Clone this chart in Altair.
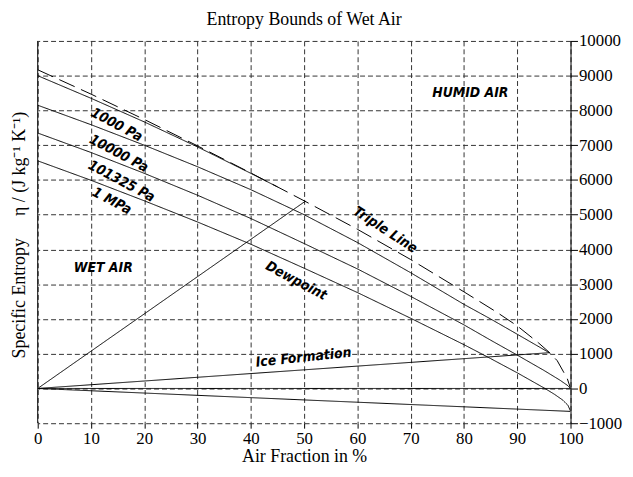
import altair as alt
import pandas as pd

# ---- data ----
triple_x = [0, 10, 20, 30, 40, 50, 60, 70, 80, 86, 90, 94, 96, 97.5, 98.6, 99.4, 100]
triple_y = [9170, 8470, 7740, 6980, 6200, 5400, 4580, 3710, 2780, 2210, 1800, 1310, 1040, 800, 500, 280, 0]

p1000_x = [0, 10, 20, 30, 40, 45]
p1000_y = [9000, 8350, 7670, 6950, 6190, 5800]

p10000_x = [0, 10, 20, 30, 40, 50, 60, 70, 80, 85, 90, 96.1]
p10000_y = [8150, 7590, 7000, 6380, 5720, 5000, 4200, 3330, 2420, 2000, 1560, 1020]

p101325_x = [0, 10, 20, 30, 40, 50, 60, 70, 80, 85, 90, 95, 98, 99.5, 100]
p101325_y = [7350, 6790, 6190, 5560, 4890, 4170, 3440, 2650, 1830, 1390, 960, 520, 240, 80, 0]

p1mpa_x = [0, 10, 20, 30, 40, 50, 60, 70, 80, 85, 90, 93, 95.2, 97, 98.5, 99.5, 100]
p1mpa_y = [6550, 5990, 5400, 4790, 4150, 3460, 2760, 2020, 1260, 860, 450, 190, 0, -170, -330, -480, -650]

dew_x = [0, 50.2]
dew_y = [0, 5385]

ice_x = [0, 96.1]
ice_y = [0, 1030]

zero_x = [0, 100]
zero_y = [0, 0]

bottom_x = [0, 100]
bottom_y = [0, -660]

label_text = ["1000 Pa", "10000 Pa", "101325 Pa", "1 MPa", "Triple Line", "Dewpoint",
              "Ice Formation", "HUMID AIR", "WET AIR"]
label_x = [14.8, 15.2, 15.7, 13.9, 65.2, 48.5, 49.9, 81.2, 12.3]
label_y = [7578, 6752, 5954, 5385, 4558, 3090, 883, 8490, 3476]
label_angle = [28, 28, 28, 28, 33, 28, 354, 0, 0]

x_ticks = list(range(0, 101, 10))
y_ticks = list(range(-1000, 10001, 1000))

y_title = "Specific Entropy\u00a0\u00a0\u00a0\u00a0\u00a0η / (J kg\u207b\u00b9 K\u207b\u00b9)"

# ---- build table ----
series = [
    ("triple", "dashed", triple_x, triple_y),
    ("p1000", "solid", p1000_x, p1000_y),
    ("p10000", "solid", p10000_x, p10000_y),
    ("p101325", "solid", p101325_x, p101325_y),
    ("p1mpa", "solid", p1mpa_x, p1mpa_y),
    ("dew", "solid", dew_x, dew_y),
    ("ice", "solid", ice_x, ice_y),
    ("zero", "solid", zero_x, zero_y),
    ("bottom", "solid", bottom_x, bottom_y),
]
rows = []
for name, style, xs, ys in series:
    for i, (xv, yv) in enumerate(zip(xs, ys)):
        rows.append({"x": xv, "y": yv, "series": name, "style": style, "order": i})
df = pd.DataFrame(rows)

labels = pd.DataFrame({"x": label_x, "y": label_y, "text": label_text, "angle": label_angle})

W, H = 538, 386
SERIF = "Liberation Serif"
SANS = "DejaVu Sans Condensed, Liberation Sans, sans-serif"

xscale = alt.Scale(domain=[0, 100], nice=False, zero=False)
yscale = alt.Scale(domain=[-1000, 10000], nice=False, zero=False)

xaxis = alt.Axis(
    values=x_ticks, orient="bottom", grid=True, gridDash=[5, 3], gridColor="#333333",
    gridOpacity=1, domain=False, tickColor="black", tickSize=5, labelFont=SERIF,
    labelFontSize=17, labelColor="black", labelPadding=2, labelOverlap=False,
    labelFlush=False, format="d", title="Air Fraction in %",
    titleFont=SERIF, titleFontSize=18, titleFontWeight="normal", titleColor="black",
    titlePadding=2)
yaxis = alt.Axis(
    values=y_ticks, orient="right", grid=True, gridDash=[5, 3],
    gridColor="#333333", gridOpacity=1, domain=True, domainColor="black",
    tickColor="black", tickSize=7, labelFont=SERIF, labelFontSize=17,
    labelColor="black", labelPadding=1, labelOverlap=False, labelFlush=False,
    labelBound=False, format="d", title=None)

lines = alt.Chart(df).mark_line(color="black", strokeWidth=1, clip=True).encode(
    x=alt.X("x:Q", scale=xscale, axis=xaxis),
    y=alt.Y("y:Q", scale=yscale, axis=yaxis),
    detail="series:N",
    order="order:Q",
    strokeDash=alt.StrokeDash("style:N", scale=alt.Scale(domain=["solid", "dashed"],
                                                         range=[[1, 0], [17, 7]]), legend=None),
)

left_border = alt.Chart(pd.DataFrame({"k": [0]})).mark_rule(color="black", strokeWidth=1).encode(
    x=alt.value(0), y=alt.value(0), y2=alt.value(H)
)

text = alt.Chart(labels).mark_text(
    font=SANS, fontSize=14, fontWeight="bold", fontStyle="italic",
    color="black", align="center", baseline="middle"
).encode(
    x=alt.X("x:Q", scale=xscale, axis=xaxis),
    y=alt.Y("y:Q", scale=yscale, axis=yaxis),
    text="text:N",
    angle=alt.Angle("angle:Q", scale=None),
)

ytitle = alt.Chart(pd.DataFrame({"t": [y_title]})).mark_text(
    font=SERIF, fontSize=18, color="black", angle=270, align="center", baseline="middle"
).encode(x=alt.value(-18), y=alt.value(196), text="t:N")

chart = alt.layer(lines, left_border, text, ytitle).properties(
    width=W, height=H,
    title=alt.TitleParams("Entropy Bounds of Wet Air", font=SERIF, fontSize=18,
                          fontWeight="normal", color="black", offset=3),
    autosize=alt.AutoSizeParams(type="none"),
    padding={"left": 30, "top": 31, "right": 55, "bottom": 46},
).configure_view(stroke=None)

chart.save("out.html", embed_options={"renderer": "svg", "actions": False})
